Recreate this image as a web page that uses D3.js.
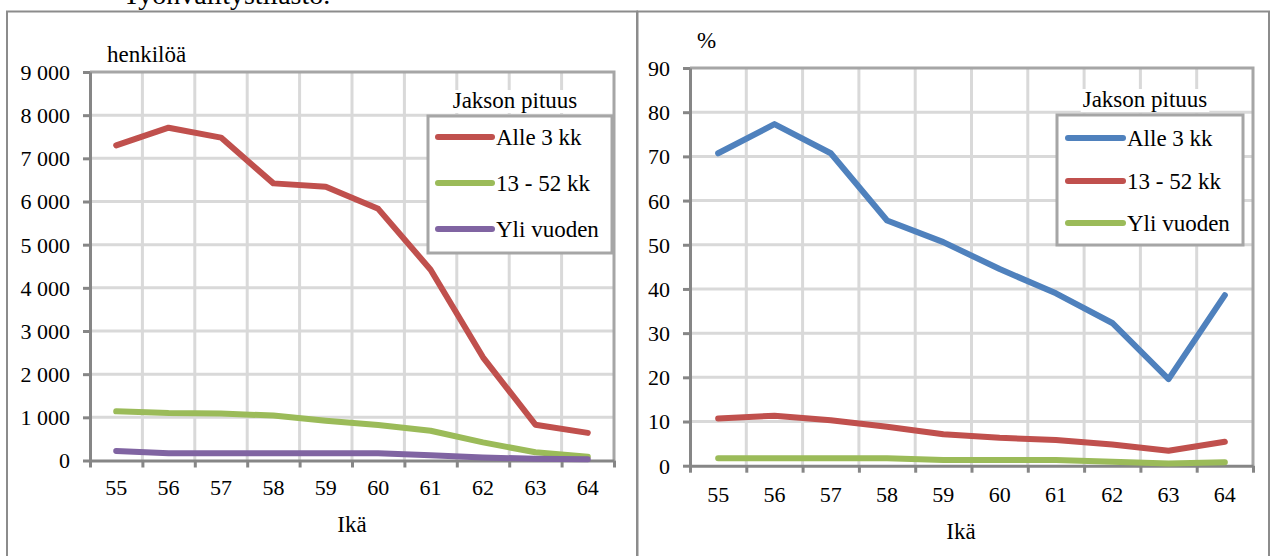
<!DOCTYPE html>
<html><head><meta charset="utf-8">
<script src="https://cdn.jsdelivr.net/npm/d3@7"></script>
<style>
html,body{margin:0;padding:0;background:#fff;}
</style></head>
<body><svg id="c" width="1272" height="556"></svg>
<script>
// ---- data ----
const ages = [55, 56, 57, 58, 59, 60, 61, 62, 63, 64];
const legendTitle = "Jakson pituus";
const seriesNames = ["Alle 3 kk", "13 - 52 kk", "Yli vuoden"];

const countAlle3 = [7300, 7710, 7480, 6420, 6340, 5830, 4420, 2390, 830, 640];
const count13_52 = [1140, 1100, 1090, 1040, 920, 820, 690, 420, 190, 90];
const countYli   = [220, 170, 170, 170, 170, 170, 120, 70, 40, 30];
const leftTicks = [0, 1000, 2000, 3000, 4000, 5000, 6000, 7000, 8000, 9000];

const pctAlle3 = [70.7, 77.3, 70.7, 55.5, 50.6, 44.5, 39.0, 32.3, 19.6, 38.6];
const pct13_52 = [10.7, 11.3, 10.3, 8.8, 7.1, 6.3, 5.8, 4.8, 3.4, 5.4];
const pctYli   = [1.7, 1.7, 1.7, 1.7, 1.3, 1.3, 1.3, 0.9, 0.5, 0.8];
const rightTicks = [0, 10, 20, 30, 40, 50, 60, 70, 80, 90];

const leftColors = ["#C0504D", "#9BBB59", "#8064A2"];
const rightColors = ["#4F81BD", "#C0504D", "#9BBB59"];

// ---- drawing ----
const FONT = "Liberation Serif";
const svg = d3.select("#c");
const fi = d3.formatLocale({decimal: ",", thousands: "\u00a0", grouping: [3]});
const fmtThousands = fi.format(",d");

function T(sel) { return sel.style("font-family", FONT).attr("fill", "#000"); }

T(svg.append("text").attr("x", 123).attr("y", 4).attr("font-size", 28))
  .text("Työnvälitystilasto.");

// panel borders
const panelStroke = "#8c8c8c";
svg.append("rect").attr("x", 7).attr("y", 11.5).attr("width", 630).attr("height", 560)
  .attr("fill", "none").attr("stroke", panelStroke).attr("stroke-width", 2);
svg.append("rect").attr("x", 637.5).attr("y", 11.5).attr("width", 631.5).attr("height", 560)
  .attr("fill", "none").attr("stroke", panelStroke).attr("stroke-width", 2);

function chart(cfg) {
  const g = svg.append("g");
  const x = d3.scaleBand().domain(ages).range([cfg.x0, cfg.x1]);
  const xb = d3.scaleLinear().domain([0, ages.length]).range([cfg.x0, cfg.x1]);
  const y = d3.scaleLinear().domain([0, cfg.ticks[cfg.ticks.length - 1]]).range([cfg.yB, cfg.yT]);
  const grid = "#d9d9d9";

  // gridlines
  g.append("g").selectAll("line").data(cfg.ticks.slice(1, -1)).join("line")
    .attr("x1", cfg.x0).attr("x2", cfg.x1).attr("y1", d => y(d)).attr("y2", d => y(d))
    .attr("stroke", grid).attr("stroke-width", 3);
  g.append("g").selectAll("line").data(d3.range(1, ages.length)).join("line")
    .attr("x1", d => xb(d)).attr("x2", d => xb(d)).attr("y1", cfg.yT).attr("y2", cfg.yB)
    .attr("stroke", grid).attr("stroke-width", 3);
  // plot border top/right
  g.append("path")
    .attr("d", `M${cfg.x0},${y(cfg.ticks[cfg.ticks.length-1])}H${cfg.x1}V${cfg.yB}`)
    .attr("fill", "none").attr("stroke", "#a6a6a6").attr("stroke-width", 3);

  // y axis
  const ya = g.append("g").attr("transform", `translate(${cfg.x0},0)`)
    .call(d3.axisLeft(y).tickValues(cfg.ticks).tickSize(7).tickSizeOuter(0).tickPadding(13).tickFormat(cfg.fmt));
  ya.select(".domain").attr("stroke", "#868686").attr("stroke-width", 3);
  ya.selectAll(".tick line").attr("stroke", "#868686").attr("stroke-width", 3);
  T(ya.selectAll(".tick text").attr("font-size", 22).attr("dy", "0.34em"));

  // x axis
  const xa = g.append("g").attr("transform", `translate(0,${cfg.yB})`)
    .call(d3.axisBottom(xb).tickValues(d3.range(0, ages.length + 1)).tickSize(7).tickSizeOuter(0).tickFormat(""));
  xa.select(".domain").attr("stroke", "#868686").attr("stroke-width", 3);
  xa.selectAll(".tick line").attr("stroke", "#868686").attr("stroke-width", 3);
  const xl = g.append("g").attr("transform", `translate(0,${cfg.yB})`)
    .call(d3.axisBottom(x).tickSize(0).tickPadding(cfg.xPad));
  xl.select(".domain").remove();
  T(xl.selectAll(".tick text").attr("font-size", 22).attr("dy", "0"));

  // axis titles
  T(g.append("text").attr("x", cfg.ylabX).attr("y", cfg.ylabY).attr("font-size", 23)).text(cfg.ylab);
  T(g.append("text").attr("x", cfg.xlabX).attr("y", cfg.xlabY).attr("font-size", 23)
    .attr("text-anchor", "middle")).text("Ikä");

  // lines
  const line = d3.line().x((d, i) => x(ages[i]) + x.bandwidth() / 2).y(d => y(d));
  cfg.series.forEach((s, k) => {
    g.append("path").datum(s).attr("d", line).attr("fill", "none")
      .attr("stroke", cfg.colors[k]).attr("stroke-width", 6)
      .attr("stroke-linejoin", "round").attr("stroke-linecap", "round");
  });

  // legend
  const L = cfg.leg;
  const tt = T(g.append("text").attr("x", L.tx).attr("y", L.ty).attr("font-size", 23)
    .attr("text-anchor", "middle")).text(legendTitle);
  const bb = tt.node().getBBox();
  g.insert("rect", () => tt.node()).attr("x", bb.x - 2).attr("y", bb.y + 2)
    .attr("width", bb.width + 4).attr("height", bb.height - 2).attr("fill", "#fff");
  g.append("rect").attr("x", L.x).attr("y", L.y).attr("width", L.w).attr("height", L.h)
    .attr("fill", "#fff").attr("stroke", "#a6a6a6").attr("stroke-width", 3);
  seriesNames.forEach((n, k) => {
    const yy = L.ys[k];
    g.append("line").attr("x1", L.lx0).attr("x2", L.lx1).attr("y1", yy).attr("y2", yy)
      .attr("stroke", cfg.colors[k]).attr("stroke-width", 6).attr("stroke-linecap", "round");
    T(g.append("text").attr("x", L.lx1 + 4).attr("y", yy + 8).attr("font-size", 23)).text(n);
  });
}

chart({
  x0: 90, x1: 614, yT: 72, yB: 460.5, ticks: leftTicks, fmt: fmtThousands,
  series: [countAlle3, count13_52, countYli], colors: leftColors,
  ylab: "henkilöä", ylabX: 107, ylabY: 62, xlabX: 352, xlabY: 532, xPad: 34,
  leg: {tx: 515, ty: 108, x: 428, y: 116, w: 184, h: 137, lx0: 438, lx1: 492, ys: [137, 183, 229]}
});
chart({
  x0: 690, x1: 1253, yT: 68, yB: 465.7, ticks: rightTicks, fmt: d3.format("d"),
  series: [pctAlle3, pct13_52, pctYli], colors: rightColors,
  ylab: "%", ylabX: 697, ylabY: 48, xlabX: 961, xlabY: 539, xPad: 36,
  leg: {tx: 1145, ty: 107, x: 1057, y: 115, w: 186, h: 130, lx0: 1068, lx1: 1123, ys: [138, 181, 223]}
});
</script></body></html>
